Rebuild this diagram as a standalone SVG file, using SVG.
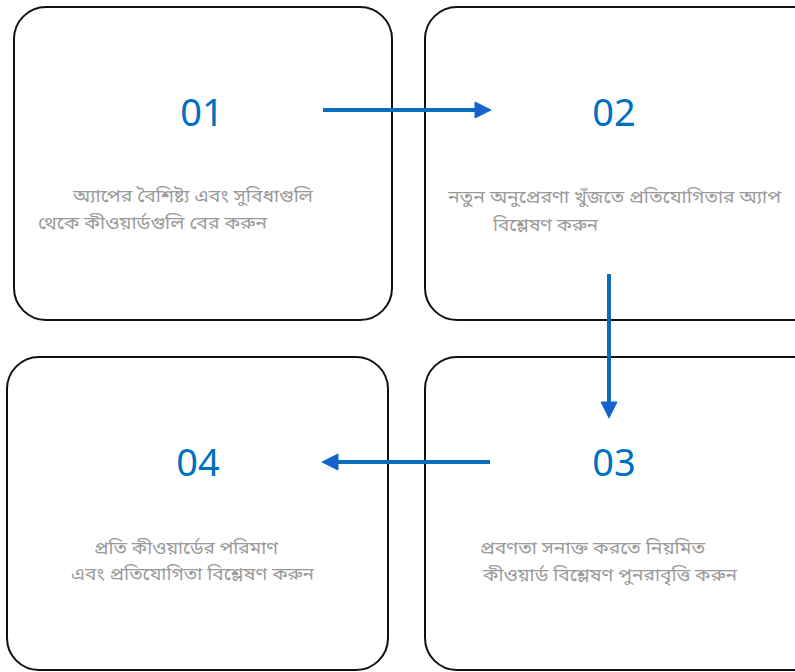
<svg xmlns="http://www.w3.org/2000/svg" width="795" height="672" viewBox="0 0 795 672">
<defs>
<style>
.box{fill:#fff;stroke:#111;stroke-width:2}
.num{font-family:"Noto Sans","Open Sans",sans-serif;font-size:38px;fill:#0070c0;text-anchor:middle}
.txt{font-family:"Noto Sans Bengali","Noto Sans","Noto Serif Bengali",sans-serif;font-size:18px;fill:#9a9a9a}
.conn{stroke:#0a6ebd;stroke-width:4;fill:none}
.head{fill:#1a5fd0;stroke:#0a6ebd;stroke-width:1}
</style>
</defs>
<rect width="795" height="672" fill="#fff"/>
<g id="node1">
<rect class="box" x="14" y="7" width="378" height="313" rx="32"/>
<text class="num" x="202" y="126">01</text>
<text class="txt" x="73" y="202" textLength="240" lengthAdjust="spacingAndGlyphs">অ্যাপের বৈশিষ্ট্য এবং সুবিধাগুলি</text>
<text class="txt" x="38" y="229" textLength="229" lengthAdjust="spacingAndGlyphs">থেকে কীওয়ার্ডগুলি বের করুন</text>
</g>
<g id="node2">
<rect class="box" x="425" y="7" width="400" height="313" rx="32"/>
<text class="num" x="614" y="126">02</text>
<text class="txt" x="448" y="203" textLength="333" lengthAdjust="spacingAndGlyphs">নতুন অনুপ্রেরণা খুঁজতে প্রতিযোগিতার অ্যাপ</text>
<text class="txt" x="493" y="231" textLength="105" lengthAdjust="spacingAndGlyphs">বিশ্লেষণ করুন</text>
</g>
<g id="node3">
<rect class="box" x="425" y="357" width="400" height="313" rx="32"/>
<text class="num" x="614" y="476">03</text>
<text class="txt" x="480" y="554" textLength="225" lengthAdjust="spacingAndGlyphs">প্রবণতা সনাক্ত করতে নিয়মিত</text>
<text class="txt" x="483" y="581" textLength="254" lengthAdjust="spacingAndGlyphs">কীওয়ার্ড বিশ্লেষণ পুনরাবৃত্তি করুন</text>
</g>
<g id="node4">
<rect class="box" x="7" y="357" width="381" height="313" rx="32"/>
<text class="num" x="198" y="476">04</text>
<text class="txt" x="94" y="554" textLength="184" lengthAdjust="spacingAndGlyphs">প্রতি কীওয়ার্ডের পরিমাণ</text>
<text class="txt" x="71" y="580" textLength="243" lengthAdjust="spacingAndGlyphs">এবং প্রতিযোগিতা বিশ্লেষণ করুন</text>
</g>
<g id="connectors">
<line class="conn" x1="323" y1="110" x2="477" y2="110"/>
<polygon class="head" points="475,102 491,110 475,118"/>
<line class="conn" x1="609" y1="274" x2="609" y2="404"/>
<polygon class="head" points="601,402 609,418 617,402"/>
<line class="conn" x1="490" y1="462" x2="336" y2="462"/>
<polygon class="head" points="338,454 322,462 338,470"/>
</g>
</svg>
